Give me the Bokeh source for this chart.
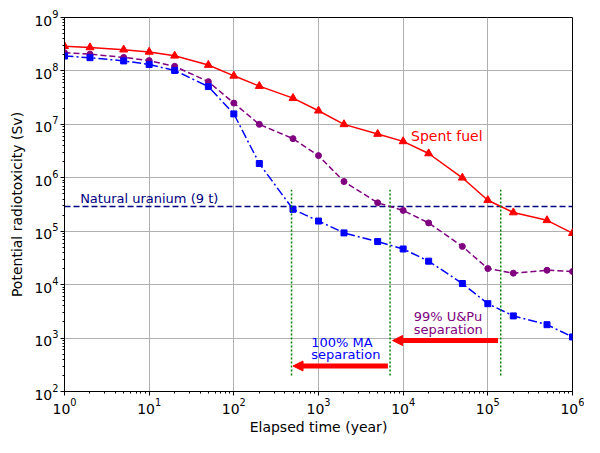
from bokeh.plotting import figure
from bokeh.models import Arrow, NormalHead, ColumnDataSource
from bokeh.embed import file_html
from bokeh.resources import INLINE
from bokeh.core.properties import value

# ---- data ----
time_years = [1, 2, 5, 10, 20, 50, 100, 200, 500, 1e3, 2e3, 5e3, 1e4, 2e4, 5e4, 1e5, 2e5, 5e5, 1e6]
spent_fuel = [2.9e8, 2.75e8, 2.5e8, 2.27e8, 1.92e8, 1.29e8, 8.1e7, 5.2e7, 3.1e7, 1.8e7,
              1.0e7, 6.6e6, 4.8e6, 2.85e6, 1.0e6, 3.8e5, 2.24e5, 1.6e5, 9.2e4]
upu_separation = [2.2e8, 2.06e8, 1.79e8, 1.56e8, 1.22e8, 6.3e7, 2.5e7, 1.0e7, 5.4e6, 2.6e6,
                  8.5e5, 3.4e5, 2.45e5, 1.43e5, 5.2e4, 2.0e4, 1.64e4, 1.86e4, 1.76e4]
ma_separation = [1.9e8, 1.77e8, 1.54e8, 1.32e8, 1.02e8, 5.1e7, 1.57e7, 1.85e6, 2.57e5, 1.55e5,
                 9.3e4, 6.4e4, 4.65e4, 2.75e4, 1.05e4, 4.4e3, 2.6e3, 1.78e3, 1.05e3]
natural_uranium_level = 2.9e5
natural_uranium_label = "Natural uranium (9 t)"
crossing_times = [480, 7000, 1.42e5]
crossing_y_range = [200, 6e5]
arrow_upu = dict(x_start=1.32e5, x_end=7.5e3, y=900)
arrow_ma = dict(x_start=6.6e3, x_end=500, y=300)
nu_label = dict(x=1.53, y=3.47e5)
spent_label = dict(x=1.24e4, y=5.2e6, text="Spent fuel")
upu_label = dict(x=[1.33e4, 1.33e4], y=[2.15e3, 1.23e3], text=["99% U&Pu", "separation"])
ma_label = dict(x=[820, 820], y=[7.1e2, 4.18e2], text=["100% MA", "separation"])

FONT = value("DejaVu Sans")
TEXT_SHIFT = -4  # pixels, to sit the alphabetic baseline where the reference has it

p = figure(width=584, height=437, output_backend="svg", toolbar_location=None,
           x_axis_type="log", y_axis_type="log",
           x_range=(1, 1e6), y_range=(1e2, 1e9),
           min_border_left=64, min_border_right=12, min_border_top=17, min_border_bottom=40)

p.background_fill_color = "white"
p.border_fill_color = "white"
p.outline_line_color = "black"
p.outline_line_width = 1

for ax in (p.xaxis[0], p.yaxis[0]):
    ax.axis_line_color = "black"
    ax.major_tick_line_color = "black"
    ax.minor_tick_line_color = "black"
    ax.major_tick_out = 4
    ax.major_tick_in = 0
    ax.minor_tick_out = 2
    ax.minor_tick_in = 0
    ax.major_label_text_font = "DejaVu Sans"
    ax.major_label_text_font_size = "14px"
    ax.major_label_text_color = "black"
    ax.axis_label_text_font = "DejaVu Sans"
    ax.axis_label_text_font_size = "14px"
    ax.axis_label_text_font_style = "normal"
    ax.axis_label_text_color = "black"
    ax.major_label_standoff = 2

p.xaxis.axis_label = "Elapsed time (year)"
p.yaxis.axis_label = "Potential radiotoxicity (Sv)"
p.xaxis.axis_label_standoff = 2
p.yaxis.axis_label_standoff = 6

p.xgrid.grid_line_color = "#b0b0b0"
p.ygrid.grid_line_color = "#b0b0b0"
p.xgrid.grid_line_width = 1
p.ygrid.grid_line_width = 1

src = ColumnDataSource(dict(t=time_years, sf=spent_fuel, upu=upu_separation, ma=ma_separation))

# natural uranium level
p.line(x=[1, 1e6], y=[natural_uranium_level, natural_uranium_level],
       line_color="#000080", line_width=1.5, line_dash="6 3")
p.text(x=[nu_label["x"]], y=[nu_label["y"]], text=[natural_uranium_label], text_font=FONT,
       text_font_size=value("13px"), text_color="#000080", text_baseline="alphabetic",
       y_offset=TEXT_SHIFT)

# series
p.line("t", "sf", source=src, line_color="red", line_width=1.5)
p.scatter("t", "sf", source=src, marker="triangle", size=8, fill_color="red", line_color="red")

p.line("t", "upu", source=src, line_color="purple", line_width=1.5, line_dash="6 3")
p.scatter("t", "upu", source=src, marker="circle", size=6, fill_color="purple", line_color="purple")

p.line("t", "ma", source=src, line_color="blue", line_width=1.5, line_dash="9 3 2 3")
p.scatter("t", "ma", source=src, marker="square", size=6, fill_color="blue", line_color="blue")

# vertical dotted crossing lines
p.segment(x0=crossing_times, y0=[crossing_y_range[0]] * 3,
          x1=crossing_times, y1=[crossing_y_range[1]] * 3,
          line_color="green", line_width=1.5, line_dash="2 2")

# arrows
for a in (arrow_upu, arrow_ma):
    p.add_layout(Arrow(end=NormalHead(size=10, fill_color="red", line_color="red"),
                       x_start=a["x_start"], y_start=a["y"], x_end=a["x_end"], y_end=a["y"],
                       line_color="red", line_width=5))

# labels
p.text(x=[spent_label["x"]], y=[spent_label["y"]], text=[spent_label["text"]], text_font=FONT,
       text_font_size=value("14px"), text_color="red", text_baseline="alphabetic",
       y_offset=TEXT_SHIFT)
p.text(x=upu_label["x"], y=upu_label["y"], text=upu_label["text"], text_font=FONT,
       text_font_size=value("13px"), text_color="purple", text_baseline="alphabetic",
       y_offset=TEXT_SHIFT)
p.text(x=ma_label["x"], y=ma_label["y"], text=ma_label["text"], text_font=FONT,
       text_font_size=value("13px"), text_color="blue", text_baseline="alphabetic",
       y_offset=TEXT_SHIFT)

open("out.html", "w").write(file_html(p, INLINE))
